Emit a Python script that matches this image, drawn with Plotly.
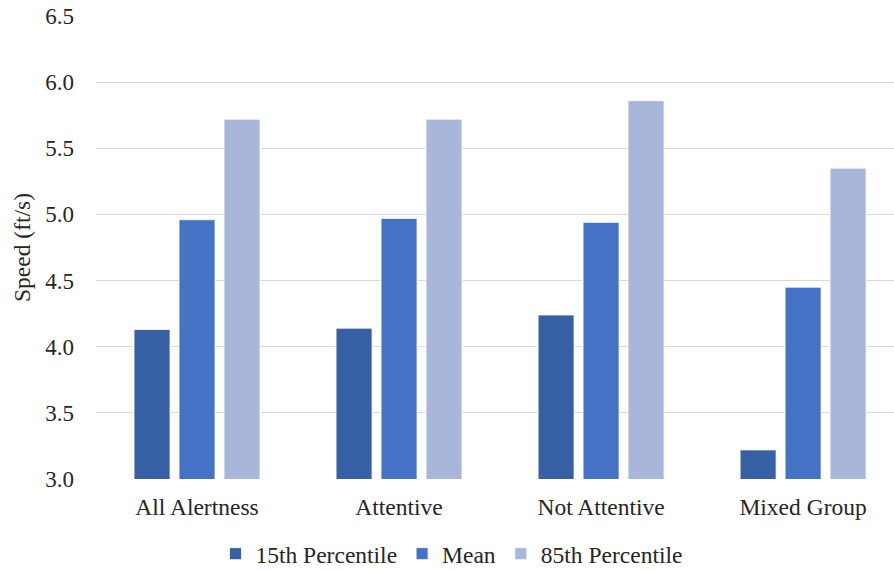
import plotly.graph_objects as go

categories = ["All Alertness", "Attentive", "Not Attentive", "Mixed Group"]
p15 = [4.13, 4.14, 4.24, 3.22]
mean = [4.96, 4.97, 4.94, 4.45]
p85 = [5.72, 5.72, 5.86, 5.35]
series_names = ["15th Percentile", "Mean", "85th Percentile"]
colors = ["#375FA4", "#4472C4", "#A8B6DA"]

fig = go.Figure()
for name, vals, col in zip(series_names, [p15, mean, p85], colors):
    fig.add_trace(go.Bar(x=categories, y=vals, name=name,
                         marker=dict(color=col, line=dict(color="#ffffff", width=0.8))))

font = "Liberation Serif"
fs = 23.5
fig.update_layout(
    width=894, height=571,
    margin=dict(l=96, r=0, t=16, b=92, autoexpand=False),
    paper_bgcolor="white", plot_bgcolor="white",
    barmode="group", bargap=0.332, bargroupgap=0.2,
    font=dict(family=font, size=fs, color="#262626"),
    showlegend=True,
    legend=dict(orientation="h", xref="container", x=0.505, xanchor="center",
                yref="container", y=0.03, yanchor="middle",
                font=dict(size=fs, family=font), itemwidth=30, tracegroupgap=0),
    xaxis=dict(range=[-0.5, 3.45], showgrid=False, showline=False, ticks="",
               automargin=False,
               ticklabelstandoff=11, tickfont=dict(size=fs, family=font)),
    yaxis=dict(range=[3.0, 6.5], dtick=0.5, tickformat=".1f", showgrid=True,
               gridcolor="#d9d9d9", gridwidth=1, zeroline=False, showline=False,
               automargin=False,
               ticks="", ticklen=0, ticklabelstandoff=21, tickfont=dict(size=23, family=font),
               title=dict(text="Speed (ft/s)", font=dict(size=fs, family=font), standoff=8)),
)
fig.write_html("out.html", config={"displayModeBar": False},
               post_script="document.body.style.margin='0';")
